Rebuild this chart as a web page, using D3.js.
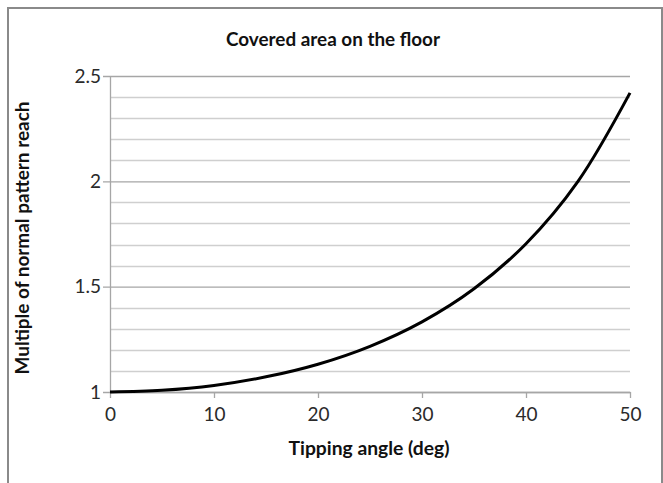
<!DOCTYPE html>
<html><head><meta charset="utf-8">
<script src="https://cdn.jsdelivr.net/npm/d3@7"></script>
<style>body{margin:0;background:#fff}svg{display:block}text{font-family:Lato,"Open Sans",sans-serif}</style>
</head><body><svg id="c" width="663" height="483"></svg>
<script>
const angles = [0, 5, 10, 15, 20, 25, 30, 35, 40, 45, 50];
const reach = [1.000, 1.008, 1.031, 1.072, 1.132, 1.217, 1.333, 1.490, 1.704, 2.000, 2.420];
const xTicks = [0, 10, 20, 30, 40, 50];
const yMajor = [1, 1.5, 2, 2.5];
const yMinor = [1.1, 1.2, 1.3, 1.4, 1.6, 1.7, 1.8, 1.9, 2.1, 2.2, 2.3, 2.4];
const title = "Covered area on the floor";
const xTitle = "Tipping angle (deg)";
const yTitle = "Multiple of normal pattern reach";

const svg = d3.select("#c");
const L = 110, R = 630, T = 76, B = 392;
const x = d3.scaleLinear().domain([0, 50]).range([L, R]);
const y = d3.scaleLinear().domain([1, 2.5]).range([B, T]);

svg.append("rect").attr("x", 8).attr("y", 8).attr("width", 654).attr("height", 520)
  .attr("fill", "none").attr("stroke", "#8a8a8a").attr("stroke-width", 2);

svg.append("g").selectAll("line").data(yMinor).join("line")
  .attr("x1", L).attr("x2", R).attr("y1", d => Math.round(y(d)) + 0.5).attr("y2", d => Math.round(y(d)) + 0.5)
  .attr("stroke", "#cfcfcf").attr("stroke-width", 1.3);
const yAxis = d3.axisLeft(y).tickValues(yMajor).tickSize(-(R - L)).tickSizeOuter(0)
  .tickFormat(d => d3.format("")(d)).tickPadding(12);
const gy = svg.append("g").attr("transform", `translate(${L},0)`).call(yAxis);
gy.select(".domain").remove();
gy.selectAll(".tick line").attr("stroke", "#a6a6a6").attr("stroke-width", 1.3).attr("x1", -7);
gy.selectAll(".tick text").attr("font-size", 19).attr("fill", "#2a2a2a").attr("x", -9);
svg.append("line").attr("x1", L + 0.5).attr("x2", L + 0.5).attr("y1", T).attr("y2", B)
  .attr("stroke", "#a6a6a6").attr("stroke-width", 1.3);

const xAxis = d3.axisBottom(x).tickValues(xTicks).tickSize(6).tickSizeOuter(0).tickPadding(10);
const gx = svg.append("g").attr("transform", `translate(0,${B})`).call(xAxis);
gx.select(".domain").attr("stroke", "#a6a6a6").attr("stroke-width", 1.3);
gx.selectAll(".tick line").attr("stroke", "#a6a6a6").attr("stroke-width", 1.3);
gx.selectAll(".tick text").attr("font-size", 19).attr("fill", "#2a2a2a");

const line = d3.line().x((d, i) => x(angles[i])).y(d => y(d)).curve(d3.curveCatmullRom.alpha(0.5));
svg.append("path").attr("d", line(reach)).attr("fill", "none").attr("stroke", "#000").attr("stroke-width", 3);

svg.append("text").attr("x", 333).attr("y", 46).attr("text-anchor", "middle")
  .attr("font-size", 18).attr("font-weight", "bold").attr("fill", "#111")
  .attr("textLength", 214).attr("lengthAdjust", "spacingAndGlyphs").text(title);
svg.append("text").attr("x", 369).attr("y", 455).attr("text-anchor", "middle")
  .attr("font-size", 19).attr("font-weight", "bold").attr("fill", "#111")
  .attr("textLength", 161).attr("lengthAdjust", "spacingAndGlyphs").text(xTitle);
svg.append("text").attr("transform", "translate(29,238) rotate(-90)").attr("text-anchor", "middle")
  .attr("font-size", 19).attr("font-weight", "bold").attr("fill", "#111")
  .attr("textLength", 273).attr("lengthAdjust", "spacingAndGlyphs").text(yTitle);
</script></body></html>
